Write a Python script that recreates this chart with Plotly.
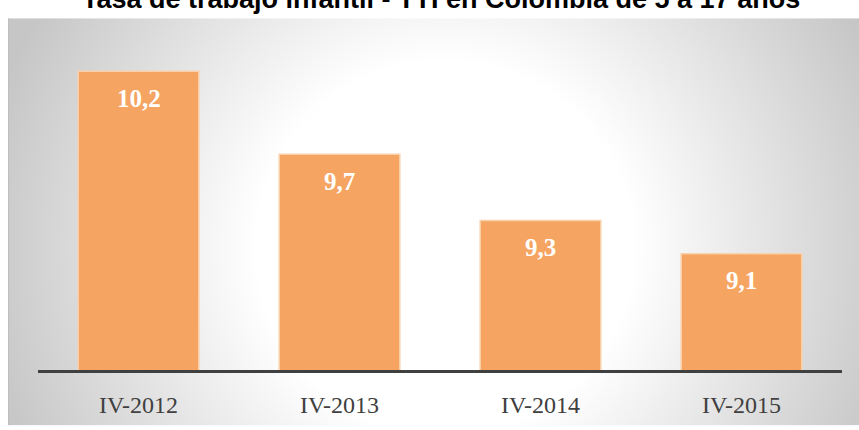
import base64
import plotly.graph_objects as go

categories = ["IV-2012", "IV-2013", "IV-2014", "IV-2015"]
values = [10.2, 9.7, 9.3, 9.1]
title_text = "Tasa de trabajo infantil - TTI en Colombia de 5 a 17 años"

W, H = 859, 430
L, R, T, B = 38, 17, 38, 56
plot_w = W - L - R
plot_h = H - T - B

# panel (radial gradient background) in pixels
px0, py0, px1, py1 = 8, 18, 859, 430
svg = f'''<svg xmlns="http://www.w3.org/2000/svg" width="{px1-px0}" height="{py1-py0}">
<defs><radialGradient id="g" gradientUnits="userSpaceOnUse" cx="{445-px0}" cy="{250-py0}" r="470">
<stop offset="0" stop-color="#ffffff"/><stop offset="0.4" stop-color="#ffffff"/>
<stop offset="1" stop-color="#c6c6c6"/></radialGradient></defs>
<rect x="0" y="0" width="{px1-px0}" height="{py1-py0}" fill="url(#g)"/>
<line x1="0.5" y1="0" x2="0.5" y2="{py1-py0}" stroke="#bdbdbd" stroke-width="1"/>
</svg>'''
src = "data:image/svg+xml;base64," + base64.b64encode(svg.encode()).decode()

fig = go.Figure()
fig.add_trace(go.Bar(
    x=categories, y=values, width=0.6,
    marker=dict(color="#F6A461", line=dict(color="#FAD0AA", width=1.5)),
    hoverinfo="skip",
))

for c, v in zip(categories, values):
    fig.add_annotation(x=c, y=v, xref="x", yref="y", text="<b>" + f"{v:.1f}".replace(".", ",") + "</b>",
                       showarrow=False, yanchor="middle", yshift=-27,
                       font=dict(family="Liberation Serif", size=25, color="white"))

fig.add_annotation(xref="paper", yref="paper", x=(441 - L) / plot_w, y=(H - B - 16) / plot_h,
                   xanchor="center", yanchor="bottom", showarrow=False, text="<b>" + title_text + "</b>",
                   font=dict(family="Liberation Sans", size=27, color="black"))

fig.add_layout_image(dict(
    source=src, xref="paper", yref="paper",
    x=(px0 - L) / plot_w, y=(H - B - py0) / plot_h,
    sizex=(px1 - px0) / plot_w, sizey=(py1 - py0) / plot_h,
    xanchor="left", yanchor="top", sizing="stretch", layer="below",
))

fig.update_layout(
    width=W, height=H,
    margin=dict(l=L, r=R, t=T, b=B, pad=0),
    paper_bgcolor="white", plot_bgcolor="rgba(0,0,0,0)",
    showlegend=False, bargap=0.4,
    xaxis=dict(showline=True, linecolor="#404040", linewidth=3, showgrid=False,
               ticks="", ticklabelstandoff=11,
               tickfont=dict(family="Liberation Serif", size=24, color="#404040")),
    yaxis=dict(range=[8.4, 8.4 + plot_h / 168.0], visible=False, showgrid=False, zeroline=False),
)

fig.write_html("out.html", config={"displayModeBar": False, "staticPlot": True},
               post_script="document.body.style.margin='0';document.body.style.overflow='hidden';")
